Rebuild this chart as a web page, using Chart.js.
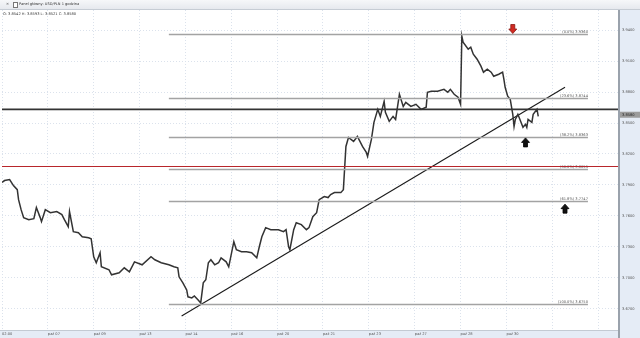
<!DOCTYPE html>
<html>
<head>
<meta charset="utf-8">
<script src="https://cdn.jsdelivr.net/npm/chart.js@4"></script>
<style>
  html, body { margin: 0; padding: 0; background: #fff; }
  #wrap { position: relative; width: 640px; height: 338px; overflow: hidden; font-family: "DejaVu Sans", "Liberation Sans", sans-serif; }
  #chart { position: absolute; left: 0; top: 0; }
  #titlebar { position: absolute; left: 0; top: 0; width: 640px; height: 9px; background: linear-gradient(#f6f7f9, #e6e9ee); border-bottom: 1px solid #c6ccd4; }
  #titlebar span { position: absolute; top: 2px; font-size: 3.6px; line-height: 5px; color: #333; white-space: nowrap; }
  #titlebar .box { position: absolute; left: 13px; top: 2px; width: 3px; height: 4px; border: 1px solid #777; background: #fff; }
  #ohlc { position: absolute; left: 3px; top: 12px; font-size: 3.6px; line-height: 5px; color: #333; white-space: nowrap; }
</style>
</head>
<body>
<div id="wrap">
  <canvas id="chart" width="640" height="338"></canvas>
  <div id="titlebar"><span style="left:6px">×</span><div class="box"></div><span style="left:19px">Panel główny: USD/PLN 1 godzina</span></div>
  <div id="ohlc">O: 3.8542 H: 3.8593 L: 3.8521 C: 3.8580</div>
</div>
<script>
// Hourly bars (bar index) and close prices
const barIndex = [0, 2, 6, 9, 12, 13, 15, 17, 21, 25, 27, 30, 31, 34, 38, 43, 47, 49, 52, 53,
  56, 60, 63, 68, 70, 72, 74, 77, 78, 84, 86, 92, 96, 100, 104, 110, 117, 120, 125, 131,
  135, 138, 139, 142, 145, 146, 149, 151, 154, 156, 158, 160, 162, 164, 167, 170, 172, 176, 178, 182,
  184, 188, 192, 196, 200, 202, 204, 207, 211, 217, 221, 223, 225, 226, 229, 231, 235, 239, 241, 244,
  247, 249, 253, 256, 258, 261, 266, 268, 270, 272, 276, 279, 283, 286, 287, 290, 292, 295, 297, 300,
  301, 304, 307, 309, 312, 315, 317, 321, 325, 329, 333, 334, 337, 342, 347, 350, 352, 355, 358, 360,
  361, 362, 366, 368, 370, 373, 376, 378, 381, 384, 386, 390, 393, 394, 395, 397, 399, 401, 402, 403,
  405, 409, 411, 412, 413, 416, 417, 420, 421];
const closes = [3.7924, 3.7943, 3.7953, 3.7894, 3.7855, 3.7758, 3.7661, 3.7584, 3.7564, 3.7574, 3.7681, 3.7584, 3.7545, 3.7661, 3.7632, 3.7642, 3.7613, 3.7564, 3.7496, 3.7642,
  3.7448, 3.7438, 3.7399, 3.7389, 3.7380, 3.7205, 3.7147, 3.7244, 3.7108, 3.7079, 3.7030, 3.7050, 3.7098, 3.7059, 3.7156, 3.7127, 3.7205, 3.7176, 3.7147, 3.7127,
  3.7108, 3.7098, 3.7011, 3.6952, 3.6884, 3.6817, 3.6807, 3.6826, 3.6787, 3.6758, 3.6952, 3.6982, 3.7147, 3.7176, 3.7127, 3.7147, 3.7195, 3.7156, 3.7108, 3.7351,
  3.7273, 3.7253, 3.7253, 3.7244, 3.7195, 3.7302, 3.7399, 3.7487, 3.7467, 3.7467, 3.7448, 3.7467, 3.7302, 3.7273, 3.7467, 3.7535, 3.7516, 3.7467, 3.7487, 3.7593,
  3.7632, 3.7758, 3.7788, 3.7778, 3.7807, 3.7826, 3.7826, 3.7855, 3.8273, 3.8360, 3.8322, 3.8370, 3.8273, 3.8215, 3.8176, 3.8341, 3.8506, 3.8632, 3.8564, 3.8710,
  3.8603, 3.8516, 3.8564, 3.8535, 3.8778, 3.8661, 3.8700, 3.8661, 3.8681, 3.8632, 3.8652, 3.8797, 3.8807, 3.8807, 3.8826, 3.8797, 3.8826, 3.8778, 3.8749, 3.8681,
  3.9341, 3.9283, 3.9215, 3.9234, 3.9166, 3.9118, 3.9050, 3.8992, 3.9021, 3.8992, 3.8953, 3.8972, 3.8992, 3.8924, 3.8846, 3.8759, 3.8729, 3.8584, 3.8467, 3.8535,
  3.8584, 3.8458, 3.8487, 3.8458, 3.8535, 3.8506, 3.8584, 3.8632, 3.8564];

const xTickPos = [0, 36, 72, 108, 144, 180, 216, 252, 288, 324, 360, 396, 432, 468];
const xLabels = ['02:00', 'paź 07', 'paź 09', 'paź 13', 'paź 14', 'paź 16', 'paź 20', 'paź 21', 'paź 23', 'paź 27', 'paź 28', 'paź 30', '', ''];
const yTicks = [3.67, 3.70, 3.73, 3.76, 3.79, 3.82, 3.85, 3.88, 3.91, 3.94];

// Fibonacci retracement
const fibPct = ['0.0%', '23.6%', '38.2%', '50.0%', '61.8%', '100.0%'];
const fibLevels = [3.9360, 3.8744, 3.8363, 3.8055, 3.7747, 3.6750];
const fibRange = [131, 460];

// Drawn objects
const trendBars = [141, 442];
const trendPrices = [3.6632, 3.8846];
const blackLevel = 3.8632;
const redLevel = 3.8079;
const lastPrice = 3.8580;
const downArrows = [{ x: 401, y: 3.9410 }];
const upArrows = [{ x: 411, y: 3.8312 }, { x: 442, y: 3.7671 }];

const FONT = '"DejaVu Sans", sans-serif';
const AXIS_BG = '#e5ecf6';

const panels = {
    id: 'panels',
    beforeDraw(chart) {
        const c = chart.ctx, a = chart.chartArea;
        c.save();
        c.fillStyle = '#fff';
        c.fillRect(0, 0, chart.width, chart.height);
        c.fillStyle = AXIS_BG;
        c.fillRect(a.right, 0, chart.width - a.right, chart.height);
        c.fillRect(0, a.bottom, a.right, chart.height - a.bottom);
        c.strokeStyle = '#c3cad3';
        c.lineWidth = 1;
        c.beginPath();
        c.moveTo(0, a.bottom + 0.5);
        c.lineTo(a.right, a.bottom + 0.5);
        c.stroke();
        c.strokeStyle = '#9aa2ac';
        c.lineWidth = 2;
        c.beginPath();
        c.moveTo(a.right + 1, 0);
        c.lineTo(a.right + 1, chart.height);
        c.stroke();
        c.restore();
    }
};

function arrow(c, cx, cy, dir) {
    // dir: -1 up, 1 down
    const h = 4.5;
    c.beginPath();
    c.moveTo(cx, cy + dir * h);
    c.lineTo(cx + 4, cy);
    c.lineTo(cx + 2, cy);
    c.lineTo(cx + 2, cy - dir * h);
    c.lineTo(cx - 2, cy - dir * h);
    c.lineTo(cx - 2, cy);
    c.lineTo(cx - 4, cy);
    c.closePath();
    c.fill();
    c.stroke();
}

const drawings = {
    id: 'drawings',
    afterDatasetsDraw(chart) {
        const c = chart.ctx, a = chart.chartArea;
        const xs = chart.scales.x, ys = chart.scales.y;
        c.save();
        // fibonacci lines
        c.font = '3.6px ' + FONT;
        c.textAlign = 'right';
        c.textBaseline = 'bottom';
        fibLevels.forEach((v, i) => {
            const y = Math.round(ys.getPixelForValue(v)) + 0.5;
            const x0 = xs.getPixelForValue(fibRange[0]), x1 = xs.getPixelForValue(fibRange[1]);
            c.strokeStyle = '#a3a3a3';
            c.lineWidth = 1.5;
            c.beginPath();
            c.moveTo(x0, y);
            c.lineTo(x1, y);
            c.stroke();
            c.fillStyle = '#555';
            c.fillText('(' + fibPct[i] + ') ' + v.toFixed(4), x1, y - 1);
        });
        // horizontal levels
        [[blackLevel, '#333', 1.6], [redLevel, '#b8262b', 1.1]].forEach(([v, col, w]) => {
            const y = ys.getPixelForValue(v);
            c.strokeStyle = col;
            c.lineWidth = w;
            c.beginPath();
            c.moveTo(a.left, y);
            c.lineTo(a.right, y);
            c.stroke();
        });
        // arrows
        c.lineWidth = 0.8;
        c.fillStyle = '#d12a22';
        c.strokeStyle = '#8a1812';
        downArrows.forEach(p => arrow(c, xs.getPixelForValue(p.x), ys.getPixelForValue(p.y), 1));
        c.fillStyle = '#111';
        c.strokeStyle = '#000';
        upArrows.forEach(p => arrow(c, xs.getPixelForValue(p.x), ys.getPixelForValue(p.y), -1));
        c.restore();
    },
    afterDraw(chart) {
        const c = chart.ctx, a = chart.chartArea, ys = chart.scales.y;
        const y = ys.getPixelForValue(lastPrice);
        c.save();
        c.fillStyle = '#9c9c9c';
        c.fillRect(a.right + 2, y - 3, chart.width - a.right - 2, 6);
        c.fillStyle = '#222';
        c.font = '3.6px ' + FONT;
        c.textAlign = 'left';
        c.textBaseline = 'middle';
        c.fillText(lastPrice.toFixed(4), a.right + 4, y);
        c.restore();
    }
};

const ctx = document.getElementById('chart');
new Chart(ctx, {
    type: 'line',
    data: {
        datasets: [
            {
                data: barIndex.map((b, i) => ({ x: b, y: closes[i] })),
                borderColor: '#333',
                borderWidth: 1.5,
                pointRadius: 0,
                tension: 0
            },
            {
                data: trendBars.map((b, i) => ({ x: b, y: trendPrices[i] })),
                borderColor: '#1a1a1a',
                borderWidth: 1.1,
                pointRadius: 0
            }
        ]
    },
    options: {
        responsive: false,
        animation: false,
        events: [],
        layout: { padding: { top: 10, left: 0, right: 0, bottom: 0 } },
        plugins: { legend: { display: false }, tooltip: { enabled: false } },
        scales: {
            x: {
                type: 'linear',
                min: 0,
                max: 483.6,
                afterBuildTicks: s => { s.ticks = xTickPos.map(v => ({ value: v })); },
                afterFit: s => { s.height = 8; },
                ticks: {
                    autoSkip: false,
                    maxRotation: 0,
                    align: 'start',
                    padding: 2,
                    color: '#555',
                    font: { size: 3.6, family: FONT },
                    callback: (v, i) => xLabels[i] || ''
                },
                grid: { color: '#dbe2ec', drawTicks: false },
                border: { display: false, dash: [1, 2] }
            },
            y: {
                position: 'right',
                min: 3.6496,
                max: 3.9594,
                afterBuildTicks: s => { s.ticks = yTicks.map(v => ({ value: v })); },
                afterFit: s => { s.width = 22; },
                ticks: {
                    padding: 4,
                    color: '#555',
                    font: { size: 3.6, family: FONT },
                    callback: v => v.toFixed(4)
                },
                grid: { color: '#dbe2ec', drawTicks: false },
                border: { display: false, dash: [1, 2] }
            }
        }
    },
    plugins: [panels, drawings]
});
</script>
</body>
</html>
